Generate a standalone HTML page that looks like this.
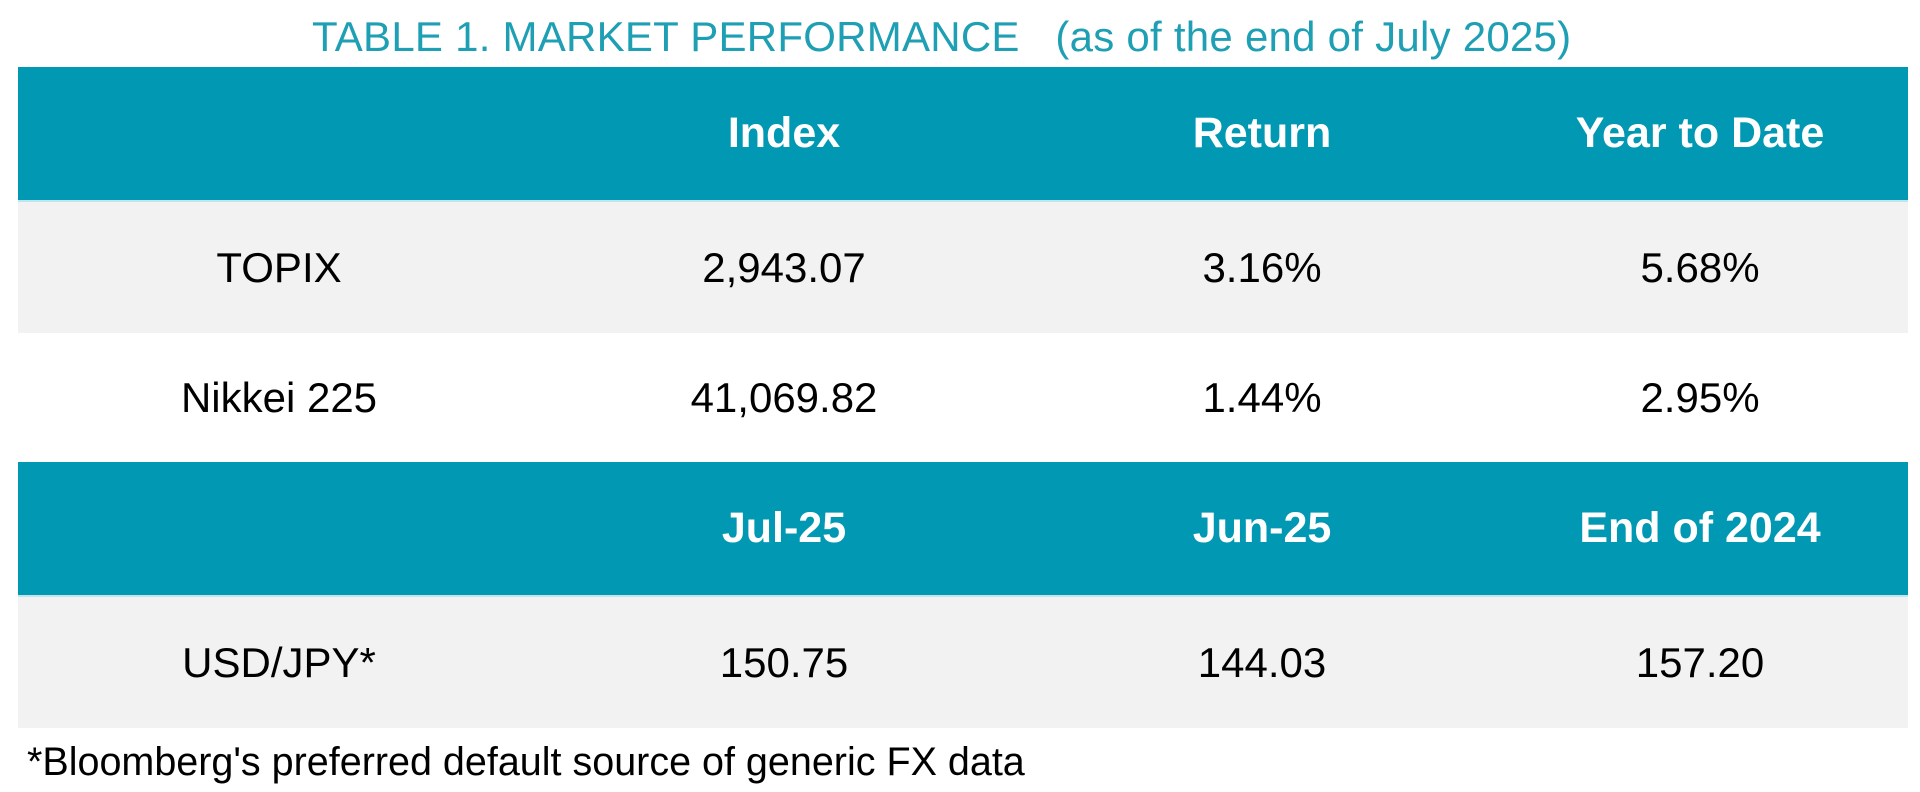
<!DOCTYPE html>
<html><head><meta charset="utf-8"><style>
body{margin:0;width:1920px;height:792px;background:#fff;font-family:"Liberation Sans",Arial,sans-serif;position:relative;overflow:hidden}
.t{position:absolute;left:312px;top:13px;font-size:42px;color:#1e9fb3;white-space:pre;letter-spacing:0.25px}
.row{position:absolute;left:18px;width:1890px;height:133px}
.h{background:#0098b2;color:#fff;font-weight:bold}
.h .c{font-size:43px}
.g{background:#f2f2f2}
.c{position:absolute;top:0;height:100%;line-height:133px;font-size:42px;transform:translateX(-50%);white-space:nowrap}
.f{position:absolute;left:27px;top:740px;font-size:39.5px;color:#000}
</style></head><body>
<div class="t">TABLE 1. MARKET PERFORMANCE   (as of the end of July 2025)</div>
<div class="row h" style="top:67px"><div class="c" style="left:766px">Index</div><div class="c" style="left:1244px">Return</div><div class="c" style="left:1682px">Year to Date</div></div>
<div class="row g" style="top:200px;border-top:2px solid #bfe6ee;height:131px"><div class="c" style="left:261px;line-height:131px">TOPIX</div><div class="c" style="left:766px;line-height:131px">2,943.07</div><div class="c" style="left:1244px;line-height:131px">3.16%</div><div class="c" style="left:1682px;line-height:131px">5.68%</div></div>
<div class="row" style="top:333px;height:129px"><div class="c" style="left:261px;line-height:129px">Nikkei 225</div><div class="c" style="left:766px;line-height:129px">41,069.82</div><div class="c" style="left:1244px;line-height:129px">1.44%</div><div class="c" style="left:1682px;line-height:129px">2.95%</div></div>
<div class="row h" style="top:462px"><div class="c" style="left:766px">Jul-25</div><div class="c" style="left:1244px">Jun-25</div><div class="c" style="left:1682px">End of 2024</div></div>
<div class="row g" style="top:595px;border-top:2px solid #bfe6ee;height:131px"><div class="c" style="left:261px;line-height:131px">USD/JPY*</div><div class="c" style="left:766px;line-height:131px">150.75</div><div class="c" style="left:1244px;line-height:131px">144.03</div><div class="c" style="left:1682px;line-height:131px">157.20</div></div>
<div class="f">*Bloomberg's preferred default source of generic FX data</div>
</body></html>
